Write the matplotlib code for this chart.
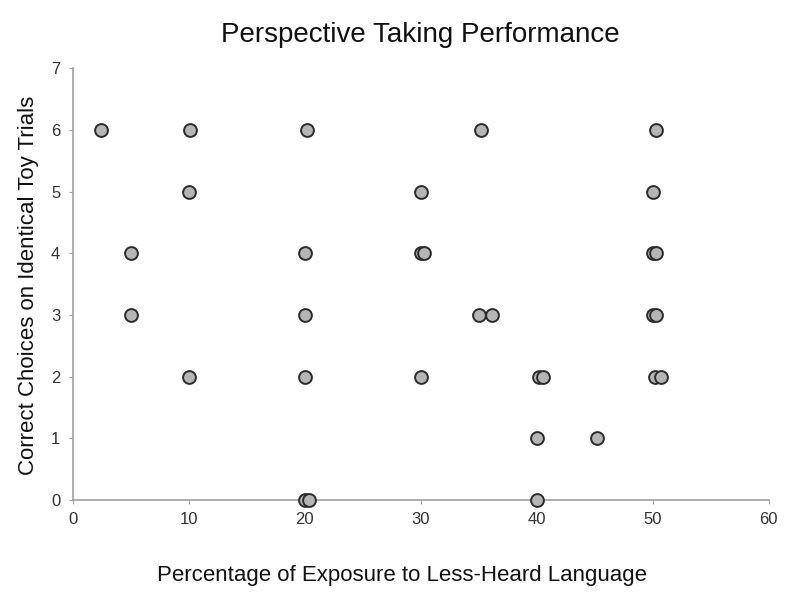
import matplotlib
matplotlib.use("Agg")
import matplotlib.pyplot as plt

plt.rcParams['font.family'] = ['Liberation Sans', 'DejaVu Sans']

# exposure to less-heard language (%) and correct choices
exposure = [2.4, 10.1, 20.2, 35.2, 50.3,
            10.0, 30.0, 50.0,
            5.0, 20.0, 30.0, 30.3, 50.0, 50.3,
            5.0, 20.0, 35.0, 36.1, 50.0, 50.3,
            10.0, 20.0, 30.0, 40.2, 40.5, 50.2, 50.7,
            40.0, 45.2,
            20.0, 20.4, 40.0]
correct = [6, 6, 6, 6, 6,
           5, 5, 5,
           4, 4, 4, 4, 4, 4,
           3, 3, 3, 3, 3, 3,
           2, 2, 2, 2, 2, 2, 2,
           1, 1,
           0, 0, 0]

fig = plt.figure(figsize=(8, 6.09), dpi=100)
ax = fig.add_axes([0.091, 0.179, 0.87, 0.709])

ax.scatter(exposure, correct, s=85, facecolor="#b5b5b5", edgecolor="#2b2b2b",
           linewidth=1.4, zorder=3, clip_on=False)

ax.set_xlim(0, 60)
ax.set_ylim(0, 7)
ax.set_xticks(range(0, 61, 10))
ax.set_yticks(range(0, 8))

for s in ["top", "right"]:
    ax.spines[s].set_visible(False)
for s in ["left", "bottom"]:
    ax.spines[s].set_color("#a0a0a0")
    ax.spines[s].set_linewidth(1.2)
ax.tick_params(colors="#a0a0a0", labelcolor="#333333", labelsize=12, length=3)
ax.tick_params(axis="x", pad=6)
ax.tick_params(axis="y", pad=6)

fig.text(0.526, 0.943, "Perspective Taking Performance", ha="center", va="center",
         fontsize=20, color="#111111")
fig.text(0.503, 0.055, "Percentage of Exposure to Less-Heard Language", ha="center",
         va="center", fontsize=16, color="#111111")
fig.text(0.036, 0.532, "Correct Choices on Identical Toy Trials", ha="center",
         va="center", rotation=90, fontsize=16, color="#111111")

fig.savefig("out.png", dpi=100)
